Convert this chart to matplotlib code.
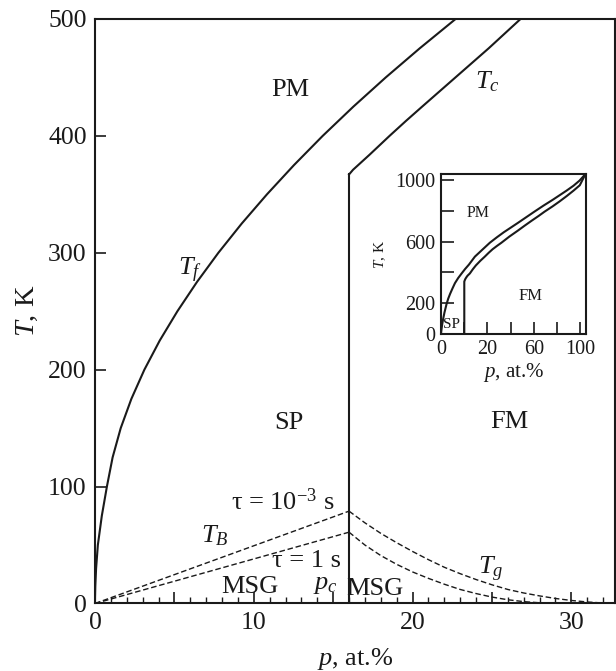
import matplotlib
matplotlib.use("Agg")
import matplotlib.pyplot as plt

plt.rcParams['font.family'] = ['Liberation Serif', 'DejaVu Serif']
plt.rcParams['mathtext.fontset'] = 'custom'
plt.rcParams['mathtext.rm'] = 'Liberation Serif'
plt.rcParams['mathtext.it'] = 'Liberation Serif:italic'
plt.rcParams['mathtext.bf'] = 'Liberation Serif:bold'

INK = '#1a1a1a'

# ---------------- main panel data ----------------
Tf_p = [0, 0.003, 0.02, 0.07, 0.18, 0.43, 0.75, 1.11, 1.62, 2.29, 3.11, 4.08, 5.19,
        6.42, 7.77, 9.24, 10.83, 12.53, 14.34, 16.27, 18.31, 20.46, 22.71]
Tf_T = [0, 5, 15, 30, 50, 75, 100, 125, 150, 175, 200, 225, 250,
        275, 300, 325, 350, 375, 400, 425, 450, 475, 500]

pc = 16
pc_T = [0, 367]

Tc_p = [16, 16.25, 17.3, 18.55, 19.6, 20.6, 21.65, 22.7, 23.75, 24.8, 25.8, 26.8]
Tc_T = [367, 371, 384, 400, 413, 425, 437.5, 450, 462.5, 475, 487.5, 500]

TB_hi_p = [0, 16]
TB_hi_T = [0, 79]
TB_lo_p = [0, 16]
TB_lo_T = [0, 61]

Tg_hi_p = [16, 17, 18, 19, 20, 21, 22, 23, 24, 25, 26, 27, 28, 29, 30, 31, 32]
Tg_hi_T = [79, 69, 60, 52, 44.5, 37.5, 31, 25.5, 20.5, 16, 12, 9, 6.5, 4.3, 2.6, 1.3, 0.4]
Tg_lo_p = [16, 17, 18, 19, 20, 21, 22, 23, 24, 25, 26, 27, 28, 29]
Tg_lo_T = [61, 50, 41, 33.5, 27, 21.5, 16.5, 12, 8.5, 5.5, 3.2, 1.6, 0.6, 0.1]

x_major = [0, 5, 10, 15, 20, 25, 30]
x_major_labels = ['0', '', '10', '', '20', '', '30']
y_major = [0, 100, 200, 300, 400, 500]

# ---------------- inset data ----------------
in_up_p = [0, 0.15, 0.5, 0.9, 1.4, 2.5, 4, 5.2, 6.5, 8.2, 10, 12.3, 14.8, 17.3, 20,
           24.3, 30, 35, 40, 45, 50, 55, 61, 67, 73.5, 80, 85, 90, 95, 99.3, 103.6]
in_up_T = [0, 15, 40, 65, 91, 140, 195, 230, 260, 295, 330, 363, 393, 422, 450,
           502, 550, 592, 627, 660, 690, 720, 757, 794, 833, 870, 900, 930, 962, 995, 1038]
in_lo_p = [16.7, 16.7, 17.1, 17.5, 18.2, 19, 20.7, 22.8, 25, 28.2, 31.4, 34.2, 37, 40.2,
           43.3, 49, 55, 60, 65, 70, 74.3, 80, 85, 90, 95, 99.5, 103.6]
in_lo_T = [0, 340, 350, 358, 368, 378, 393, 420, 445, 475, 502, 527, 550, 572,
           592, 632, 670, 703, 735, 766, 794, 828, 860, 894, 930, 965, 1038]
in_xticks = [0, 100/6, 200/6, 300/6, 400/6, 500/6, 100]
in_xlabels = ['0', '', '20', '', '60', '', '100']
in_yticks = [0, 200, 400, 600, 800, 1000]
in_ylabels = ['0', '200', '', '600', '', '1000']

fig = plt.figure(figsize=(6.16, 6.71), dpi=100)
ax = fig.add_axes([0.1542, 0.1006, 0.8442, 0.8711])

lw = 1.5
dash = (0, (4, 2))
ax.plot(Tf_p, Tf_T, color=INK, lw=lw)
ax.plot([pc, pc], pc_T, color=INK, lw=lw)
ax.plot(Tc_p, Tc_T, color=INK, lw=lw, solid_joinstyle='round')
ax.plot(TB_hi_p, TB_hi_T, color=INK, lw=1.0, ls=dash)
ax.plot(TB_lo_p, TB_lo_T, color=INK, lw=1.0, ls=dash)
ax.plot(Tg_hi_p, Tg_hi_T, color=INK, lw=1.0, ls=dash)
ax.plot(Tg_lo_p, Tg_lo_T, color=INK, lw=1.0, ls=dash)

ax.set_xlim(0, 32.75)
ax.set_ylim(0, 500)
ax.set_xticks(x_major)
ax.set_xticklabels(x_major_labels)
ax.set_xticks(range(0, 33), minor=True)
ax.set_yticks(y_major)
ax.tick_params(axis='both', which='major', direction='in', length=8, width=1.2,
               labelsize=18.5, colors=INK, pad=6)
ax.tick_params(axis='x', which='minor', direction='in', length=4.5, width=1.0, colors=INK)
for s in ax.spines.values():
    s.set_linewidth(1.5)
    s.set_color(INK)

ax.set_xlabel('$p$, at.%', fontsize=19, color=INK, labelpad=9)
ax.set_ylabel('$T$, K', fontsize=20.5, color=INK, labelpad=6)

fs = 19
kw = dict(ha='center', va='center', color=INK, fontsize=fs)
ax.text(12.3, 439, 'PM', **kw)
ax.text(24.7, 446, '$T_c$', **kw)
ax.text(6.0, 285, '$T_f$', **kw)
ax.text(12.2, 154, 'SP', **kw)
ax.text(26.1, 155, 'FM', **kw)
ax.text(11.84, 87, 'τ = 10$^{-3}$ s', **kw)
ax.text(7.56, 58, '$T_B$', **kw)
ax.text(13.3, 36.5, 'τ = 1 s', **kw)
ax.text(9.76, 9, 'MSG', ha='center', va='baseline', color=INK, fontsize=fs)
ax.text(14.5, 16, '$p_c$', **kw)
ax.text(17.6, 7.3, 'MSG', ha='center', va='baseline', color=INK, fontsize=fs)
ax.text(24.9, 29, '$T_g$', **kw)

# ---------------- inset ----------------
ins = fig.add_axes([0.7159, 0.5022, 0.2346, 0.2385])
ins.plot(in_up_p, in_up_T, color=INK, lw=1.5)
ins.plot(in_lo_p, in_lo_T, color=INK, lw=1.5)
ins.set_xlim(0, 103.6)
ins.set_ylim(0, 1038)
ins.set_xticks(in_xticks)
ins.set_xticklabels(in_xlabels)
ins.set_yticks(in_yticks)
ins.set_yticklabels(in_ylabels)
ins.tick_params(axis='both', direction='in', length=9, width=1.2, labelsize=14.5,
                colors=INK, pad=4)
for s in ins.spines.values():
    s.set_linewidth(1.5)
    s.set_color(INK)
ins.set_xlabel('$p$, at.%', fontsize=15, color=INK, labelpad=2)
ins.set_ylabel('$T$, K', fontsize=11, color=INK, labelpad=5)
ins.text(26.7, 783, 'PM', ha='center', va='center', color=INK, fontsize=11.5)
ins.text(64.3, 246, 'FM', ha='center', va='center', color=INK, fontsize=12)
ins.text(7.6, 65, 'SP', ha='center', va='center', color=INK, fontsize=11)

fig.savefig('out.png', dpi=100)
